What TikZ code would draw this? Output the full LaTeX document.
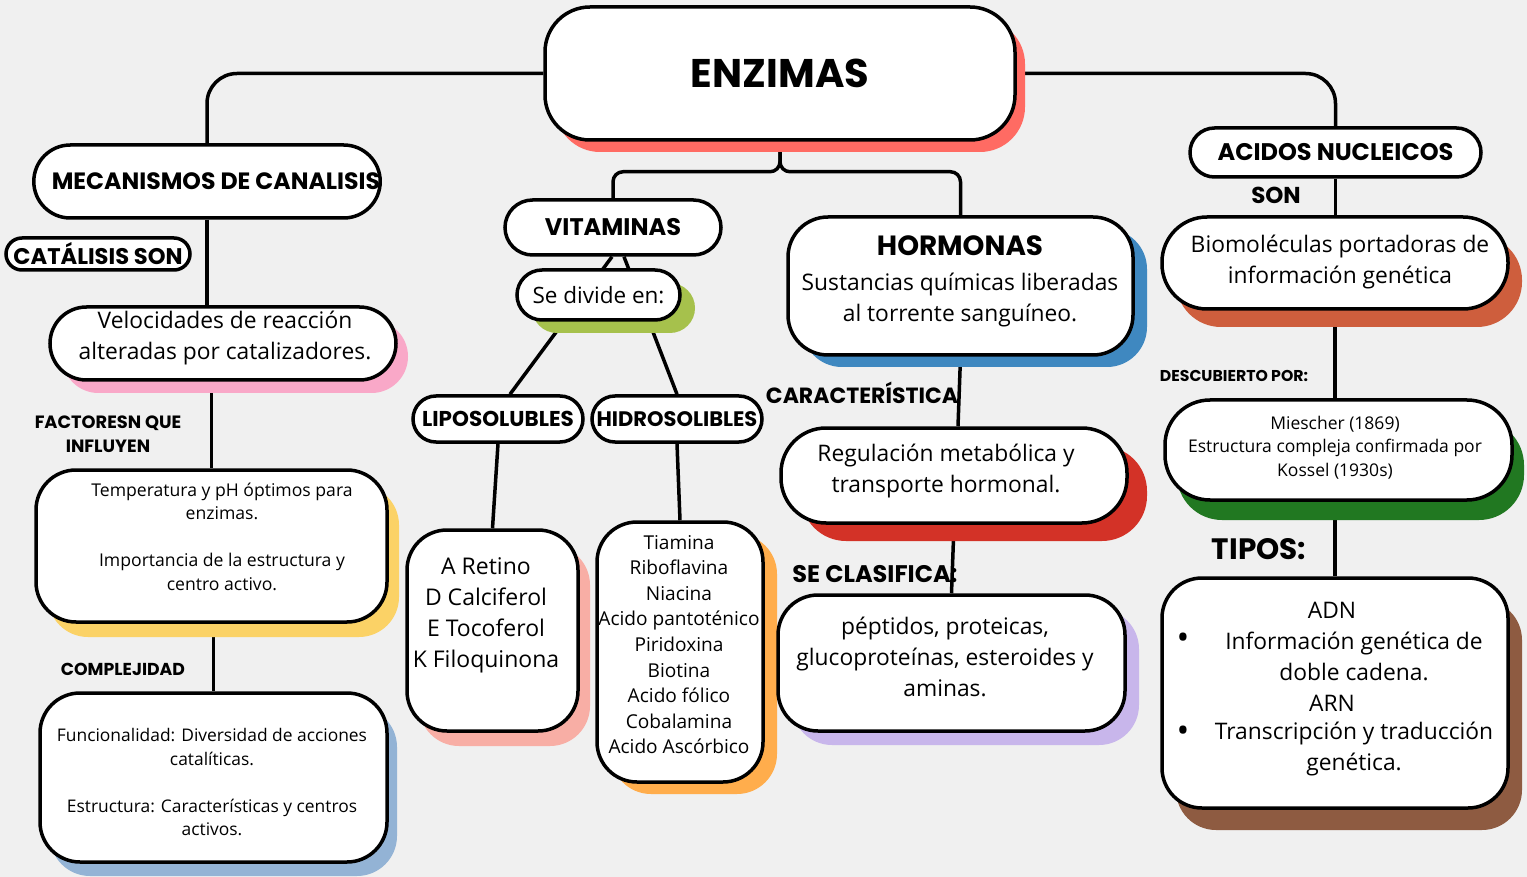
\documentclass[tikz,border=0pt]{standalone}
\usepackage{fontspec}
\setmainfont{Open Sans}
\newfontfamily\handfam{Poppins}
\usetikzlibrary{shadows}
\definecolor{cBack}{HTML}{F0F0F0}
\definecolor{cEnz}{HTML}{FF6B63}
\definecolor{cVel}{HTML}{F9A8C8}
\definecolor{cTem}{HTML}{FBD266}
\definecolor{cFun}{HTML}{93B3D5}
\definecolor{cDiv}{HTML}{A6C14C}
\definecolor{cRet}{HTML}{F8AEA5}
\definecolor{cTia}{HTML}{FFAD4C}
\definecolor{cHor}{HTML}{3F88C0}
\definecolor{cReg}{HTML}{D33227}
\definecolor{cPep}{HTML}{C8B6EB}
\definecolor{cBio}{HTML}{CE5E3D}
\definecolor{cMie}{HTML}{217821}
\definecolor{cAdn}{HTML}{8E5B41}
\newcommand\hdfont[1]{\fontsize{#1}{#1}\handfam\bfseries\selectfont}
\newcommand\bdfont[2]{\fontsize{#1}{#2}\selectfont}
\pgfdeclarelayer{back}
\pgfdeclarelayer{bg}
\pgfsetlayers{back,bg,main}
\tikzset{
  box/.style={draw=black, line width=3.5pt, fill=white, inner sep=0pt, align=center},
  shd/.style n args={3}{drop shadow={shadow xshift=#2pt, shadow yshift=-#3pt, fill=#1, opacity=1, draw=none}},
  txt/.style={inner sep=0pt, align=center},
  lbl/.style={inner sep=0pt, align=center},
  conn/.style={draw=black, line width=3.5pt},
}
\begin{document}
\begin{tikzpicture}[x=1pt,y=-1pt]
\begin{pgfonlayer}{back}
\fill[cBack] (0,0) rectangle (1527,877);
\end{pgfonlayer}
\useasboundingbox (0,0) rectangle (1527,877);

% main box
\node[box, minimum width=470pt, minimum height=133pt, rounded corners=45pt, shd={cEnz}{10}{12}, font=\hdfont{40}] (enz) at (780,73.5) {ENZIMAS};

% left branch
\node[box, minimum width=346pt, minimum height=73pt, rounded corners=36.5pt, font=\hdfont{23.6}] (mec) at (207,181.5) {\hspace*{18pt}MECANISMOS DE CANALISIS};
\node[box, minimum width=184pt, minimum height=32pt, rounded corners=16pt, font=\hdfont{22.6}] (cat) at (98,254) {CATÁLISIS SON};
\node[box, minimum width=346pt, minimum height=73pt, rounded corners=36.5pt, shd={cVel}{12}{13}] (vel) at (223,343.5) {};
\node[txt, font=\bdfont{22.8}{31}] (velT) at (225,338.5) {Velocidades de reacción\\alteradas por catalizadores.};
\node[lbl, font=\hdfont{17.8}, align=center] (facL) at (108,434) {FACTORESN QUE\\[6pt]INFLUYEN};
\node[box, minimum width=351pt, minimum height=152pt, rounded corners=40pt, shd={cTem}{12}{15}] (tem) at (211.5,546) {};
\node[txt, font=\bdfont{17.6}{23.5}] (temT) at (222,536.5) {Temperatura y pH óptimos para\\enzimas.\\[23.5pt]Importancia de la estructura y\\centro activo.};
\node[lbl, font=\hdfont{17.3}] (comL) at (123,669) {COMPLEJIDAD};
\node[box, minimum width=347pt, minimum height=169pt, rounded corners=40pt, shd={cFun}{10}{14}] (fun) at (213.5,777.5) {};
\node[txt, font=\bdfont{17.4}{23.5}] (funT) at (212,782.5) {Funcionalidad: Diversidad de acciones\\catalíticas.\\[23.5pt]Estructura: Características y centros\\activos.};

% vitamins
\node[box, minimum width=216pt, minimum height=55pt, rounded corners=27.5pt, font=\hdfont{24}] (vit) at (613,227.5) {VITAMINAS};
\node[box, minimum width=163pt, minimum height=50pt, rounded corners=25pt, shd={cDiv}{15}{13}, font=\bdfont{22.5}{26}] (div) at (598.5,295) {Se divide en:};
\node[box, minimum width=170pt, minimum height=46pt, rounded corners=23pt, font=\hdfont{21.5}] (lip) at (498,419) {LIPOSOLUBLES};
\node[box, minimum width=170pt, minimum height=46pt, rounded corners=23pt, font=\hdfont{21}] (hid) at (677,419) {HIDROSOLIBLES};
\node[box, minimum width=171pt, minimum height=201pt, rounded corners=40pt, shd={cRet}{12}{15}] (ret) at (492.5,630.5) {};
\node[txt, font=\bdfont{23}{31}] (retT) at (486,615.5) {A Retino\\D Calciferol\\E Tocoferol\\K Filoquinona};
\node[box, minimum width=166pt, minimum height=260pt, rounded corners=40pt, shd={cTia}{14}{12}] (tia) at (680,652) {};
\node[txt, font=\bdfont{19.1}{25.6}] (tiaT) at (679,644.5) {Tiamina\\Riboflavina\\Niacina\\Acido pantoténico\\Piridoxina\\Biotina\\Acido fólico\\Cobalamina\\Acido Ascórbico};

% hormones
\node[box, minimum width=345pt, minimum height=138pt, rounded corners=40pt, shd={cHor}{14}{12}] (hor) at (960.5,286) {};
\node[lbl, font=\hdfont{27.8}] (horH) at (960,246) {HORMONAS};
\node[txt, font=\bdfont{22.8}{31}] (horT) at (960,300.5) {Sustancias químicas liberadas\\al torrente sanguíneo.};
\node[lbl, font=\hdfont{22}] (carL) at (862,393) {CARACTERÍSTICA};
\node[box, minimum width=346pt, minimum height=95pt, rounded corners=45pt, shd={cReg}{20}{18}] (reg) at (954,475.5) {};
\node[txt, font=\bdfont{22.8}{31}] (regT) at (946,471.5) {Regulación metabólica y\\transporte hormonal.};
\node[lbl, font=\hdfont{24}] (claL) at (875,574) {SE CLASIFICA:};
\node[box, minimum width=347pt, minimum height=136pt, rounded corners=40pt, shd={cPep}{14}{14}] (pep) at (951.5,663) {};
\node[txt, font=\bdfont{22.8}{31}] (pepT) at (945,657) {péptidos, proteicas,\\glucoproteínas, esteroides y\\aminas.};

% nucleic acids
\node[box, minimum width=291pt, minimum height=49pt, rounded corners=24.5pt, font=\hdfont{24}] (aci) at (1335.5,152.5) {ACIDOS NUCLEICOS};
\node[lbl, font=\hdfont{23}] (sonL) at (1276,195) {SON};
\node[box, minimum width=346pt, minimum height=92pt, rounded corners=45pt, shd={cBio}{14}{18}] (bio) at (1335,263) {};
\node[txt, font=\bdfont{22.8}{31}] (bioT) at (1340,262.5) {Biomoléculas portadoras de\\información genética};
\node[lbl, font=\hdfont{15.7}] (desL) at (1234,376) {DESCUBIERTO POR:};
\node[box, minimum width=347pt, minimum height=100pt, rounded corners=45pt, shd={cMie}{12}{20}] (mie) at (1338.5,450) {};
\node[txt, font=\bdfont{17.5}{23.5}] (mieT) at (1335,447.5) {Miescher (1869)\\Estructura compleja confirmada por\\Kossel (1930s)};
\node[lbl, font=\hdfont{29.5}] (tipL) at (1259,549) {TIPOS:};
\node[box, minimum width=346pt, minimum height=230pt, rounded corners=40pt, shd={cAdn}{14}{22}] (adn) at (1335,693) {};
\node[txt, font=\bdfont{22.8}{31}] (adnA) at (1332,610) {ADN};
\node[txt, font=\bdfont{22.8}{31}] (adnB) at (1354,656.5) {Información genética de\\doble cadena.};
\node[txt, font=\bdfont{22.8}{31}] (adnC) at (1332,703) {ARN};
\node[txt, font=\bdfont{22.8}{31}] (adnD) at (1354,749.5) {Transcripción y traducción\\genética.};
\node[txt, font=\bdfont{34}{31}] (bul1) at (1183,641) {•};
\node[txt, font=\bdfont{34}{31}] (bul2) at (1183,734) {•};

% connectors
\begin{pgfonlayer}{bg}
\draw[conn, rounded corners=30pt] (enz.west) -| (mec.north);
\draw[conn, rounded corners=30pt] (enz.east) -| (aci.north);
\draw[conn, rounded corners=10pt] (enz.south) -- ++(0,30) -| (vit.north);
\draw[conn, rounded corners=10pt] (enz.south) -- ++(0,30) -| (hor.north);
\draw[conn] (mec.south) -- (mec.south |- vel.north);
\draw[conn] (tem.north |- vel.south) -- (tem.north);
\draw[conn] (fun.north |- tem.south) -- (fun.north);
\draw[conn] ([xshift=-1pt]vit.south) -- ([xshift=12pt]lip.north);
\draw[conn] ([xshift=11pt]vit.south) -- (hid.north);
\draw[conn] (lip.south) -- (ret.north);
\draw[conn] (hid.south) -- (tia.north);
\draw[conn] (hor.south) -- ([xshift=4pt]reg.north);
\draw[conn] (reg.south) -- (pep.north);
\draw[conn] (aci.south) -- (aci.south |- bio.north);
\draw[conn] (bio.south) -- (bio.south |- mie.north);
\draw[conn] (adn.north |- mie.south) -- (adn.north);
\end{pgfonlayer}
\end{tikzpicture}
\end{document}
